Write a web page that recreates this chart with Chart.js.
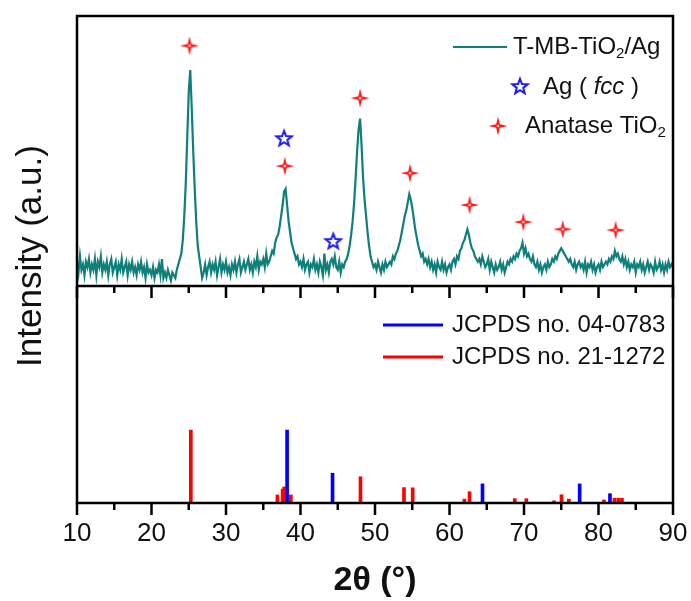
<!DOCTYPE html>
<html>
<head>
<meta charset="utf-8">
<script src="https://cdn.jsdelivr.net/npm/chart.js@4.4.1/dist/chart.umd.min.js"></script>
<style>
  html, body { margin: 0; padding: 0; background: #fff; }
  #wrap { width: 691px; height: 601px; }
</style>
</head>
<body>
<div id="wrap"><canvas id="graficoXRD" width="691" height="601"></canvas></div>
<script>
// ==========================
// DADOS
// ==========================
const angleStart = 10;
const angleStep = 0.2;
// intensidade medida, 5 pontos por grau (10.0, 10.2, ... 89.8) + 90.0
const intensity = [
  9, 5, 11, 6, 8,
  4, 9, 7, 10, 5,
  8, 6, 10, 4, 9,
  7, 11, 5, 8, 6,
  9, 4, 8, 10, 5,
  7, 9, 4, 8, 6,
  10, 5, 7, 9, 4,
  8, 6, 9, 5, 7,
  4, 8, 6, 9, 5,
  7, 3, 8, 5, 6,
  4, 7, 3, 6, 5,
  8, 4, 10, 3, 5,
  3, 6, 4, 2, 5,
  4, 3, 6, 8, 10,
  12, 17, 26, 38, 55,
  72, 80, 66, 50, 36,
  24, 15, 11, 7, 3,
  5, 8, 4, 7, 9,
  5, 8, 6, 9, 4,
  7, 10, 5, 8, 6,
  9, 5, 7, 4, 8,
  6, 9, 5, 8, 10,
  5, 7, 9, 6, 8,
  10, 6, 8, 5, 9,
  7, 11, 6, 9, 8,
  10, 7, 12, 8, 9,
  11, 13, 12, 16, 18,
  19, 22, 26, 30, 35,
  36, 30, 24, 20, 16,
  14, 12, 10, 11, 8,
  9, 7, 10, 6, 8,
  9, 5, 8, 7, 10,
  6, 8, 5, 9, 7,
  4, 12, 6, 8, 5,
  9, 10, 8, 11, 7,
  6, 9, 5, 8, 7,
  9, 10, 12, 15, 19,
  24, 31, 40, 50, 58,
  62, 52, 40, 32, 26,
  20, 15, 11, 9, 7,
  8, 6, 9, 7, 5,
  8, 6, 9, 7, 8,
  9, 8, 11, 10, 12,
  13, 15, 17, 20, 23,
  26, 28, 31, 34, 32,
  29, 25, 21, 18, 15,
  13, 11, 12, 9, 10,
  8, 10, 7, 9, 6,
  8, 5, 9, 7, 6,
  9, 6, 8, 5, 7,
  8, 6, 9, 10, 8,
  11, 10, 13, 14, 16,
  17, 19, 21, 19, 16,
  14, 13, 11, 10, 9,
  10, 8, 11, 9, 7,
  8, 10, 6, 9, 7,
  5, 8, 6, 7, 9,
  6, 8, 5, 7, 9,
  8, 10, 9, 11, 10,
  12, 11, 13, 14, 16,
  12, 14, 11, 12, 10,
  9, 11, 8, 7, 9,
  6, 8, 5, 7, 8,
  6, 9, 7, 8, 10,
  9, 11, 10, 12, 13,
  14, 13, 12, 11, 10,
  9, 10, 8, 7, 9,
  6, 8, 9, 7, 8,
  6, 9, 5, 8, 7,
  9, 6, 8, 5, 7,
  8, 6, 9, 7, 8,
  9, 8, 10, 9, 11,
  10, 13, 11, 12, 10,
  9, 11, 8, 10, 7,
  9, 6, 8, 7, 9,
  5, 8, 7, 9, 6,
  8, 5, 7, 9, 6,
  8, 7, 5, 9, 6,
  7, 9, 6, 8, 5,
  8, 6, 9, 7, 8,
  7
];

// marcadores sobre os picos
const anataseMarkX = [25.1, 37.9, 48.0, 54.7, 62.7, 69.9, 75.2, 82.3];
const anataseMarkY = [89, 44.4, 69.6, 41.8, 30, 23.7, 21, 20.7];
const agMarkX = [37.8, 44.4];
const agMarkY = [54.8, 16.7];

// padrões de referência (JCPDS)
const agRefX = [38.2, 44.3, 64.43, 77.47, 81.54];
const agRefY = [33.6, 13.7, 8.8, 8.8, 4.3];
const anataseRefX = [25.28, 36.9, 37.6, 37.8, 38.7, 48.05, 53.89, 55.06, 62.0, 62.69,
  68.76, 70.31, 74.03, 75.03, 76.02, 80.73, 82.14, 82.66, 83.15];
const anataseRefY = [33.6, 3.7, 6.4, 7.4, 3.7, 12.1, 7.1, 7.0, 1.8, 5.2,
  2.0, 2.0, 1.0, 3.8, 1.8, 1.4, 2.2, 2.2, 2.2];

const xTicks = [10, 20, 30, 40, 50, 60, 70, 80, 90];

// ==========================
// SÍMBOLOS
// ==========================
const FONTE = '"Liberation Sans", Arial, sans-serif';
const COR_TEXTO = "#111";

function criarEstrelaQuatro() {
  const c = document.createElement("canvas");
  c.width = 22; c.height = 22;
  const g = c.getContext("2d");
  const r = 9.5, ri = 2.6;
  g.translate(11, 11);
  g.beginPath();
  for (let i = 0; i < 8; i++) {
    const ang = -Math.PI / 2 + (i * Math.PI) / 4;
    const rr = i % 2 === 0 ? r : ri;
    g.lineTo(Math.cos(ang) * rr, Math.sin(ang) * rr);
  }
  g.closePath();
  g.fillStyle = "#ff1a1a";
  g.fill();
  g.beginPath();
  g.arc(0, 0, 1.3, 0, Math.PI * 2);
  g.fillStyle = "#ffd0d0";
  g.fill();
  return c;
}

function criarEstrelaCinco() {
  const c = document.createElement("canvas");
  c.width = 20; c.height = 20;
  const g = c.getContext("2d");
  const r = 8, ri = 3.4;
  g.translate(10, 10.8);
  g.beginPath();
  for (let i = 0; i < 10; i++) {
    const ang = -Math.PI / 2 + (i * Math.PI) / 5;
    const rr = i % 2 === 0 ? r : ri;
    g.lineTo(Math.cos(ang) * rr, Math.sin(ang) * rr);
  }
  g.closePath();
  g.strokeStyle = "#1a1aff";
  g.lineWidth = 2;
  g.stroke();
  return c;
}

const estrelaAnatase = criarEstrelaQuatro();
const estrelaAg = criarEstrelaCinco();

function escreverPartes(ctx, x, y, partes, tamanho) {
  let cx = x;
  for (const p of partes) {
    const sz = p.sub ? Math.round(tamanho * 0.62) : tamanho;
    ctx.font = `${p.italic ? "italic " : ""}${sz}px ${FONTE}`;
    ctx.fillText(p.t, cx, p.sub ? y + tamanho * 0.3 : y);
    cx += ctx.measureText(p.t).width;
  }
}

// ==========================
// MOLDURA, TICKS E LEGENDAS
// ==========================
const molduraPlugin = {
  id: "moldura",
  afterDraw(chart) {
    const { ctx, chartArea: a, scales } = chart;
    const meio = scales.yBot.top;
    ctx.save();
    ctx.strokeStyle = "#000";
    ctx.lineWidth = 2.5;
    ctx.strokeRect(a.left, a.top, a.right - a.left, a.bottom - a.top);
    ctx.beginPath();
    ctx.moveTo(a.left, meio);
    ctx.lineTo(a.right, meio);
    ctx.stroke();

    for (let v = 10; v <= 90; v += 5) {
      const px = scales.x.getPixelForValue(v);
      const len = v % 10 === 0 ? 12 : 7;
      ctx.beginPath();
      ctx.moveTo(px, meio);
      ctx.lineTo(px, meio + len);
      ctx.moveTo(px, a.bottom);
      ctx.lineTo(px, a.bottom + len);
      ctx.stroke();
    }

    // título do eixo y
    ctx.fillStyle = COR_TEXTO;
    ctx.textBaseline = "middle";
    ctx.textAlign = "center";
    ctx.save();
    ctx.translate(31, 256);
    ctx.rotate(-Math.PI / 2);
    ctx.font = `35px ${FONTE}`;
    ctx.fillText("Intensity (a.u.)", 0, 0);
    ctx.restore();

    // legenda do painel superior
    ctx.textAlign = "left";
    ctx.strokeStyle = "#0f7f7a";
    ctx.lineWidth = 2;
    ctx.beginPath();
    ctx.moveTo(453, 47);
    ctx.lineTo(507, 47);
    ctx.stroke();
    escreverPartes(ctx, 513, 47, [{ t: "T-MB-TiO" }, { t: "2", sub: true }, { t: "/Ag" }], 24);
    ctx.drawImage(estrelaAg, 510, 76);
    escreverPartes(ctx, 543, 87, [{ t: "Ag ( " }, { t: "fcc", italic: true }, { t: " )" }], 24);
    ctx.drawImage(estrelaAnatase, 487, 115);
    escreverPartes(ctx, 525, 126, [{ t: "Anatase TiO" }, { t: "2", sub: true }], 24);

    // legenda do painel inferior
    ctx.lineWidth = 3;
    ctx.strokeStyle = "#0000ff";
    ctx.beginPath();
    ctx.moveTo(383, 325);
    ctx.lineTo(443, 325);
    ctx.stroke();
    ctx.strokeStyle = "#ff0000";
    ctx.beginPath();
    ctx.moveTo(383, 357);
    ctx.lineTo(443, 357);
    ctx.stroke();
    escreverPartes(ctx, 452, 325, [{ t: "JCPDS no. 04-0783" }], 24);
    escreverPartes(ctx, 452, 357, [{ t: "JCPDS no. 21-1272" }], 24);
    ctx.restore();
  },
};

// ==========================
// GRÁFICO
// ==========================
Chart.defaults.font.family = FONTE;
Chart.defaults.color = COR_TEXTO;

const pontosXRD = intensity.map((v, i) => ({ x: angleStart + i * angleStep, y: v }));
const pares = (xs, ys) => xs.map((x, i) => ({ x, y: ys[i] }));

const larguraEixoY = (s) => { s.width = 77; };

new Chart(document.getElementById("graficoXRD"), {
  data: {
    datasets: [
      {
        type: "line",
        label: "T-MB-TiO2/Ag",
        data: pontosXRD,
        xAxisID: "x",
        yAxisID: "yTop",
        borderColor: "#0f7f7a",
        borderWidth: 2.2,
        pointRadius: 0,
        tension: 0,
        order: 3,
      },
      {
        type: "line",
        label: "Anatase TiO2",
        data: pares(anataseMarkX, anataseMarkY),
        xAxisID: "x",
        yAxisID: "yTop",
        showLine: false,
        pointStyle: estrelaAnatase,
        order: 1,
      },
      {
        type: "line",
        label: "Ag (fcc)",
        data: pares(agMarkX, agMarkY),
        xAxisID: "x",
        yAxisID: "yTop",
        showLine: false,
        pointStyle: estrelaAg,
        order: 1,
      },
      {
        type: "bar",
        label: "JCPDS no. 21-1272",
        data: pares(anataseRefX, anataseRefY),
        xAxisID: "x",
        yAxisID: "yBot",
        backgroundColor: "#ff0000",
        barThickness: 3,
        grouped: false,
        order: 2,
      },
      {
        type: "bar",
        label: "JCPDS no. 04-0783",
        data: pares(agRefX, agRefY),
        xAxisID: "x",
        yAxisID: "yBot",
        backgroundColor: "#0000ff",
        barThickness: 3,
        grouped: false,
        order: 1,
      },
    ],
  },
  options: {
    responsive: false,
    animation: false,
    devicePixelRatio: 1,
    layout: { padding: { top: 16, right: 18, left: 0, bottom: 0 } },
    plugins: {
      legend: { display: false },
      tooltip: { enabled: false },
    },
    scales: {
      x: {
        type: "linear",
        position: "bottom",
        offset: false,
        min: 10,
        max: 90,
        afterFit: (s) => { s.height = 98; },
        afterBuildTicks: (s) => { s.ticks = xTicks.map((v) => ({ value: v })); },
        ticks: {
          autoSkip: false,
          maxRotation: 0,
          padding: 3,
          color: COR_TEXTO,
          font: { size: 26 },
        },
        grid: { display: false, drawTicks: true, tickLength: 12, offset: false },
        border: { display: false },
        title: {
          display: true,
          text: "2θ (°)",
          color: COR_TEXTO,
          font: { size: 34, weight: "bold" },
          padding: { top: 0, bottom: 0 },
        },
      },
      yBot: {
        type: "linear",
        position: "left",
        stack: "paineis",
        stackWeight: 217,
        min: 0,
        max: 100,
        afterFit: larguraEixoY,
        ticks: { display: false },
        grid: { display: false },
        border: { display: false },
      },
      yTop: {
        type: "linear",
        position: "left",
        stack: "paineis",
        stackWeight: 270,
        min: 0,
        max: 100,
        afterFit: larguraEixoY,
        ticks: { display: false },
        grid: { display: false },
        border: { display: false },
      },
    },
  },
  plugins: [molduraPlugin],
});
</script>
</body>
</html>
